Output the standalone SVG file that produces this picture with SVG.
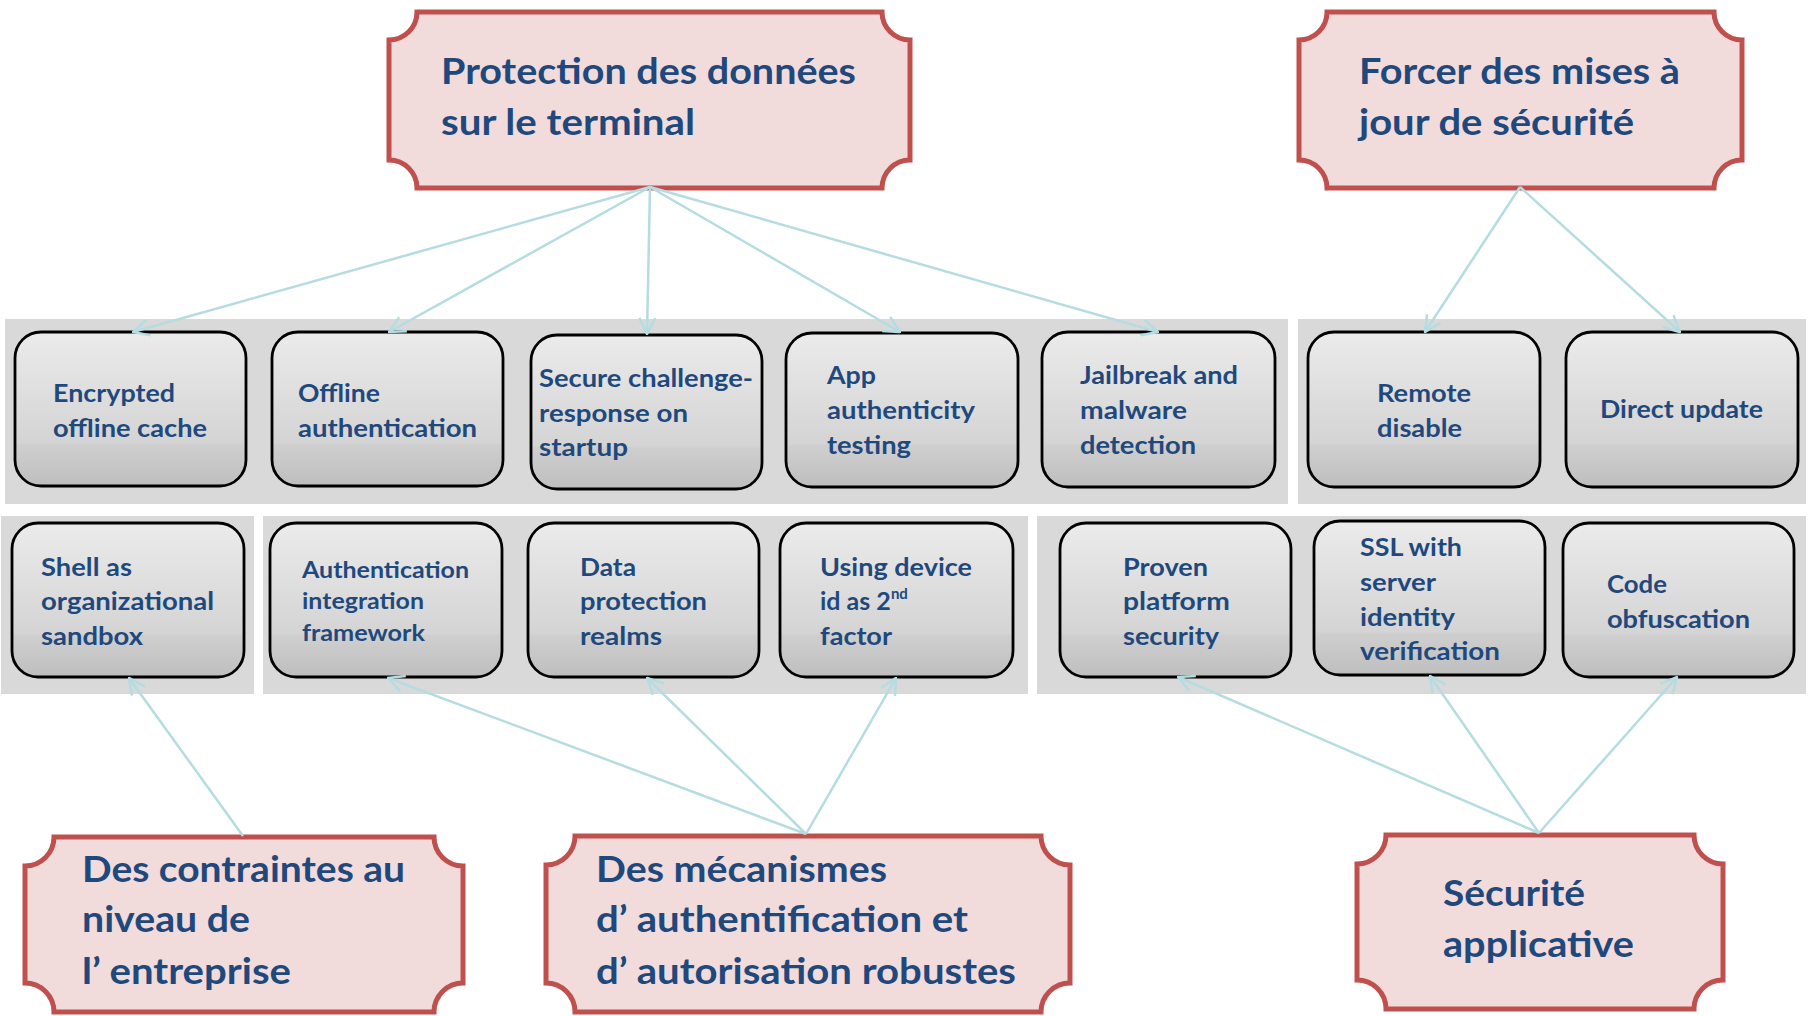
<svg xmlns="http://www.w3.org/2000/svg" width="1809" height="1016" viewBox="0 0 1809 1016">
<style>
.band{fill:#D9D9D9}
.plaque{fill:#F2DCDB;stroke:#C0504D;stroke-width:5}
.node{fill:url(#g);stroke:#000;stroke-width:2.8}
text{font-family:Lato,"Open Sans","Liberation Sans",sans-serif;font-weight:700;fill:#1F497D}
.t{font-size:36px}
.n{font-size:25px}
.ns{font-size:23px}
.c line{stroke:#B4DCE1;stroke-width:2.5;marker-end:url(#ah)}
</style>
<defs>
<linearGradient id="g" x1="0" y1="0" x2="0" y2="1">
<stop offset="0" stop-color="#EBEBEB"/>
<stop offset="0.72" stop-color="#D4D4D4"/>
<stop offset="0.73" stop-color="#CFCFCF"/>
<stop offset="1" stop-color="#BEBEBE"/>
</linearGradient>
<marker id="ah" viewBox="0 0 20 20" refX="19" refY="10" markerWidth="20" markerHeight="20" markerUnits="userSpaceOnUse" orient="auto">
<path d="M3,2 L19,10 L3,18" fill="none" stroke="#B4DCE1" stroke-width="2.5"/>
</marker>
</defs>
<rect width="1809" height="1016" fill="#FFFFFF"/>
<g id="bands">
<rect class="band" x="5" y="319" width="1283" height="185"/>
<rect class="band" x="1298" y="319" width="508" height="185"/>
<rect class="band" x="1" y="516" width="253" height="178"/>
<rect class="band" x="263" y="516" width="765" height="178"/>
<rect class="band" x="1037" y="516" width="769" height="178"/>
</g>
<g id="protection">
<path class="plaque" d="M417,12 L882,12 A28,28 0 0 0 910,40 L910,160 A28,28 0 0 0 882,188 L417,188 A28,28 0 0 0 389,160 L389,40 A28,28 0 0 0 417,12 Z"/>
<text class="t" x="441" y="84" textLength="415" lengthAdjust="spacingAndGlyphs">Protection des données</text>
<text class="t" x="441" y="135" textLength="254" lengthAdjust="spacingAndGlyphs">sur le terminal</text>
</g>
<g id="forcer">
<path class="plaque" d="M1327,12 L1714,12 A28,28 0 0 0 1742,40 L1742,160 A28,28 0 0 0 1714,188 L1327,188 A28,28 0 0 0 1299,160 L1299,40 A28,28 0 0 0 1327,12 Z"/>
<text class="t" x="1359" y="84" textLength="321" lengthAdjust="spacingAndGlyphs">Forcer des mises à</text>
<text class="t" x="1359" y="135" textLength="275" lengthAdjust="spacingAndGlyphs">jour de sécurité</text>
</g>
<g id="contraintes">
<path class="plaque" d="M54,837 L434,837 A29,29 0 0 0 463,866 L463,983 A29,29 0 0 0 434,1012 L54,1012 A29,29 0 0 0 25,983 L25,866 A29,29 0 0 0 54,837 Z"/>
<text class="t" x="82" y="882" textLength="323" lengthAdjust="spacingAndGlyphs">Des contraintes au</text>
<text class="t" x="82" y="932" textLength="168" lengthAdjust="spacingAndGlyphs">niveau de</text>
<text class="t" x="82" y="984" textLength="209" lengthAdjust="spacingAndGlyphs">l’<tspan dx="9">entreprise</tspan></text>
</g>
<g id="mecanismes">
<path class="plaque" d="M575,836 L1041,836 A29,29 0 0 0 1070,865 L1070,983 A29,29 0 0 0 1041,1012 L575,1012 A29,29 0 0 0 546,983 L546,865 A29,29 0 0 0 575,836 Z"/>
<text class="t" x="596" y="882" textLength="291" lengthAdjust="spacingAndGlyphs">Des mécanismes</text>
<text class="t" x="596" y="932" textLength="372" lengthAdjust="spacingAndGlyphs">d’<tspan dx="9">authentification et</tspan></text>
<text class="t" x="596" y="984" textLength="420" lengthAdjust="spacingAndGlyphs">d’<tspan dx="9">autorisation robustes</tspan></text>
</g>
<g id="securite">
<path class="plaque" d="M1386,835 L1694,835 A29,29 0 0 0 1723,864 L1723,980 A29,29 0 0 0 1694,1009 L1386,1009 A29,29 0 0 0 1357,980 L1357,864 A29,29 0 0 0 1386,835 Z"/>
<text class="t" x="1443" y="906" textLength="142" lengthAdjust="spacingAndGlyphs">Sécurité</text>
<text class="t" x="1443" y="957" textLength="191" lengthAdjust="spacingAndGlyphs">applicative</text>
</g>
<g id="encrypted">
<rect class="node" x="15" y="332" width="231" height="154" rx="26"/>
<text class="n" x="53" y="402" textLength="122" lengthAdjust="spacingAndGlyphs">Encrypted</text>
<text class="n" x="53" y="437" textLength="154" lengthAdjust="spacingAndGlyphs">offline cache</text>
</g>
<g id="offline">
<rect class="node" x="272" y="332" width="231" height="154" rx="26"/>
<text class="n" x="298" y="402" textLength="82" lengthAdjust="spacingAndGlyphs">Offline</text>
<text class="n" x="298" y="437" textLength="179" lengthAdjust="spacingAndGlyphs">authentication</text>
</g>
<g id="secure">
<rect class="node" x="531" y="335" width="231" height="154" rx="26"/>
<text class="n" x="539" y="387" textLength="214" lengthAdjust="spacingAndGlyphs">Secure challenge-</text>
<text class="n" x="539" y="422" textLength="149" lengthAdjust="spacingAndGlyphs">response on</text>
<text class="n" x="539" y="456" textLength="89" lengthAdjust="spacingAndGlyphs">startup</text>
</g>
<g id="app">
<rect class="node" x="786" y="333" width="232" height="154" rx="26"/>
<text class="n" x="827" y="384" textLength="49" lengthAdjust="spacingAndGlyphs">App</text>
<text class="n" x="827" y="419" textLength="148" lengthAdjust="spacingAndGlyphs">authenticity</text>
<text class="n" x="827" y="454" textLength="84" lengthAdjust="spacingAndGlyphs">testing</text>
</g>
<g id="jailbreak">
<rect class="node" x="1042" y="332" width="233" height="155" rx="26"/>
<text class="n" x="1080" y="384" textLength="158" lengthAdjust="spacingAndGlyphs">Jailbreak and</text>
<text class="n" x="1080" y="419" textLength="107" lengthAdjust="spacingAndGlyphs">malware</text>
<text class="n" x="1080" y="454" textLength="116" lengthAdjust="spacingAndGlyphs">detection</text>
</g>
<g id="remote">
<rect class="node" x="1308" y="332" width="232" height="155" rx="26"/>
<text class="n" x="1377" y="402" textLength="94" lengthAdjust="spacingAndGlyphs">Remote</text>
<text class="n" x="1377" y="437" textLength="85" lengthAdjust="spacingAndGlyphs">disable</text>
</g>
<g id="direct">
<rect class="node" x="1566" y="332" width="232" height="155" rx="26"/>
<text class="n" x="1600" y="418" textLength="163" lengthAdjust="spacingAndGlyphs">Direct update</text>
</g>
<g id="shell">
<rect class="node" x="12" y="523" width="232" height="154" rx="26"/>
<text class="n" x="41" y="576" textLength="91" lengthAdjust="spacingAndGlyphs">Shell as</text>
<text class="n" x="41" y="610" textLength="173" lengthAdjust="spacingAndGlyphs">organizational</text>
<text class="n" x="41" y="645" textLength="102" lengthAdjust="spacingAndGlyphs">sandbox</text>
</g>
<g id="authint">
<rect class="node" x="270" y="523" width="232" height="154" rx="26"/>
<text class="ns" x="302" y="578" textLength="167" lengthAdjust="spacingAndGlyphs">Authentication</text>
<text class="ns" x="302" y="609" textLength="122" lengthAdjust="spacingAndGlyphs">integration</text>
<text class="ns" x="302" y="641" textLength="123" lengthAdjust="spacingAndGlyphs">framework</text>
</g>
<g id="data">
<rect class="node" x="528" y="523" width="231" height="154" rx="26"/>
<text class="n" x="580" y="576" textLength="56" lengthAdjust="spacingAndGlyphs">Data</text>
<text class="n" x="580" y="610" textLength="127" lengthAdjust="spacingAndGlyphs">protection</text>
<text class="n" x="580" y="645" textLength="82" lengthAdjust="spacingAndGlyphs">realms</text>
</g>
<g id="using">
<rect class="node" x="780" y="523" width="233" height="154" rx="26"/>
<text class="n" x="820" y="576" textLength="152" lengthAdjust="spacingAndGlyphs">Using device</text>
<text class="n" x="820" y="610">id as 2<tspan font-size="15" dy="-11">nd</tspan></text>
<text class="n" x="820" y="645" textLength="72" lengthAdjust="spacingAndGlyphs">factor</text>
</g>
<g id="proven">
<rect class="node" x="1060" y="523" width="231" height="154" rx="26"/>
<text class="n" x="1123" y="576" textLength="85" lengthAdjust="spacingAndGlyphs">Proven</text>
<text class="n" x="1123" y="610" textLength="107" lengthAdjust="spacingAndGlyphs">platform</text>
<text class="n" x="1123" y="645" textLength="96" lengthAdjust="spacingAndGlyphs">security</text>
</g>
<g id="ssl">
<rect class="node" x="1314" y="521" width="231" height="154" rx="26"/>
<text class="n" x="1360" y="556" textLength="102" lengthAdjust="spacingAndGlyphs">SSL with</text>
<text class="n" x="1360" y="591" textLength="76" lengthAdjust="spacingAndGlyphs">server</text>
<text class="n" x="1360" y="626" textLength="95" lengthAdjust="spacingAndGlyphs">identity</text>
<text class="n" x="1360" y="660" textLength="140" lengthAdjust="spacingAndGlyphs">verification</text>
</g>
<g id="code">
<rect class="node" x="1563" y="523" width="231" height="154" rx="26"/>
<text class="n" x="1607" y="593" textLength="60" lengthAdjust="spacingAndGlyphs">Code</text>
<text class="n" x="1607" y="628" textLength="143" lengthAdjust="spacingAndGlyphs">obfuscation</text>
</g>
<g id="connectors" class="c">
<line x1="650" y1="187" x2="133" y2="332"/>
<line x1="650" y1="187" x2="389" y2="332"/>
<line x1="650" y1="187" x2="647" y2="334"/>
<line x1="650" y1="187" x2="900" y2="332"/>
<line x1="650" y1="187" x2="1158" y2="332"/>
<line x1="1520" y1="187" x2="1425" y2="332"/>
<line x1="1520" y1="187" x2="1680" y2="332"/>
<line x1="243" y1="836" x2="129" y2="678"/>
<line x1="806" y1="834" x2="388" y2="678"/>
<line x1="806" y1="834" x2="647" y2="678"/>
<line x1="806" y1="834" x2="896" y2="678"/>
<line x1="1539" y1="833" x2="1178" y2="677"/>
<line x1="1539" y1="833" x2="1430" y2="676"/>
<line x1="1539" y1="833" x2="1677" y2="677"/>
</g>
</svg>
